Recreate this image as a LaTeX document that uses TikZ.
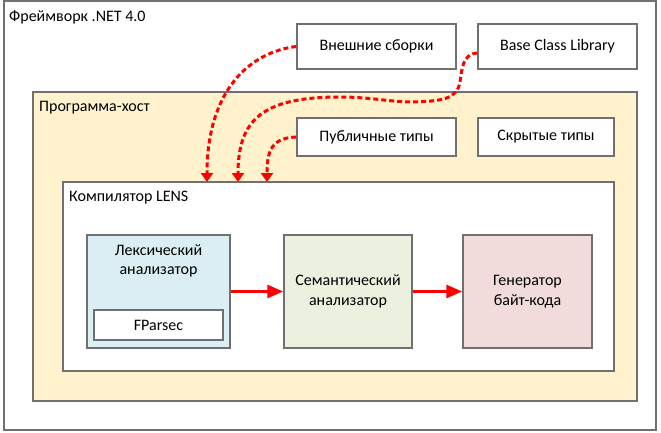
\documentclass[tikz,border=0pt]{standalone}
\usepackage{fontspec}
\setmainfont{Carlito}
\usetikzlibrary{positioning,arrows.meta}

\definecolor{hostfill}{RGB}{255,242,204}
\definecolor{lexfill}{RGB}{218,238,243}
\definecolor{semfill}{RGB}{235,241,222}
\definecolor{genfill}{RGB}{242,220,219}
\definecolor{boxline}{RGB}{112,112,112}
\definecolor{arrowred}{RGB}{255,0,0}

\begin{document}
\begin{tikzpicture}[x=1pt,y=-1pt,
	every node/.style={font=\fontsize{16}{19.5}\selectfont},
	box/.style={draw=boxline,line width=1.5pt,fill=white,inner sep=0,align=center},
	caption/.style={anchor=base west,inner sep=0},
	solidarrow/.style={draw=arrowred,line width=3pt,-{Triangle[length=16pt,width=13pt]}},
	dasharrow/.style={draw=arrowred,line width=3pt,dash pattern=on 5pt off 3pt,-{Triangle[length=9pt,width=12pt]}}]

\useasboundingbox (0,0) rectangle (661,432);

% frames
\node[box,minimum width=652,minimum height=429](net)at(330,215.5){};
\node[caption](netcap)at(9,21){Фреймворк .NET 4.0};
\node[box,fill=hostfill,minimum width=604,minimum height=309](host)at(335,246.5){};
\node[caption](hostcap)at(39,111){Программа-хост};
\node[box,minimum width=551,minimum height=189](lens)at(338.5,276.5){};
\node[caption](lenscap)at(69,201){Компилятор LENS};

% libraries and types
\node[box,minimum width=159,minimum height=45](ext)at(376.5,46.5){Внешние сборки};
\node[box,minimum width=159,minimum height=45](bcl)at(557.5,46.5){Base Class Library};
\node[box,minimum width=159,minimum height=38](pub)at(376.5,137){Публичные типы};
\node[box,minimum width=136,minimum height=38](hid)at(546,137){Скрытые типы};

% compiler stages
\node[box,fill=lexfill,minimum width=143,minimum height=113](lex)at(158.5,291.5){};
\node[align=center](lextext)at(158.5,261){Лексический\\анализатор};
\node[box,minimum width=129,minimum height=30](fparsec)at(158.5,325){FParsec};
\node[box,fill=semfill,minimum width=128,minimum height=113](sem)at(348,291.5){Семантический\\анализатор};
\node[box,fill=genfill,minimum width=129,minimum height=113](gen)at(527.5,291.5){Генератор\\байт-кода};

\foreach \x/\y in {lex/sem,sem/gen}
	\draw[solidarrow](\x)--(\y);

\coordinate (e1) at (207,182);
\coordinate (e2) at (238,182);
\coordinate (e3) at (267,182);

\draw[dasharrow](ext.west) .. controls (250,52) and (207,90) .. (e1);
\draw[dasharrow]([yshift=-6.5pt]bcl.west) .. controls (462,54) and (462,70) .. (460,82)
	.. controls (457,100) and (440,101) .. (413,102)
	.. controls (390,102) and (370,97) .. (340,97)
	.. controls (262,97) and (238,120) .. (e2);
\draw[dasharrow](pub.west) .. controls (272,138) and (267,150) .. (e3);
\end{tikzpicture}
\end{document}
